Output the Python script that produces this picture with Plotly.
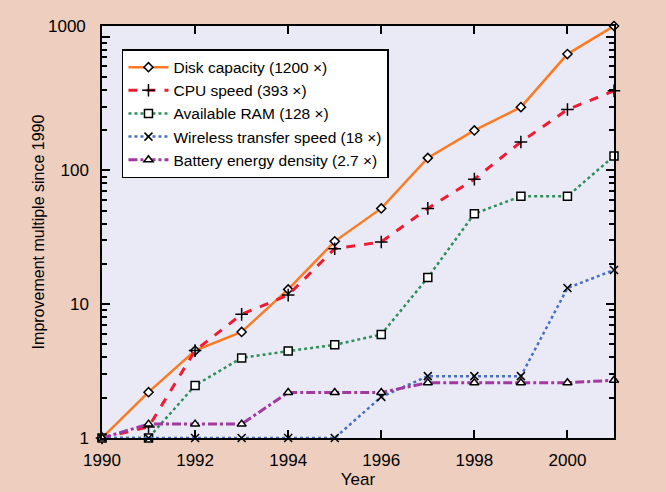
import plotly.graph_objects as go

years = list(range(1990, 2002))
disk = [1, 2.2, 4.5, 6.2, 12.9, 29.5, 52, 124, 199, 297, 740, 1200]
cpu = [1, 1.21, 4.5, 8.4, 11.7, 26, 29.2, 52, 86, 163, 285, 393]
ram = [1, 1, 2.47, 3.97, 4.46, 4.97, 5.94, 15.8, 47.5, 64, 64, 128]
wireless = [1, 1, 1, 1, 1, 1, 2.03, 2.9, 2.9, 2.9, 13.2, 18]
battery = [1, 1.27, 1.27, 1.27, 2.19, 2.19, 2.19, 2.59, 2.59, 2.59, 2.59, 2.7]

names = ["Disk capacity (1200 \u00d7)", "CPU speed (393 \u00d7)", "Available RAM (128 \u00d7)",
         "Wireless transfer speed (18 \u00d7)", "Battery energy density (2.7 \u00d7)"]
series = [disk, cpu, ram, wireless, battery]
colors = ["#fb7a22", "#ee1c33", "#2e8f5a", "#4a6fc0", "#a03aa0"]
dashes = ["solid", "dash", "dot", "dot", "dashdot"]
widths = [2.5, 3, 2.5, 2.5, 3]
symbols = ["diamond", "cross-thin", "square", "x-thin", "triangle-up"]
msizes = [7, 9, 8, 8, 8]

FONT = "Liberation Sans, Arial, sans-serif"

fig = go.Figure()
for n, s, c, d, w, sym, ms in zip(names, series, colors, dashes, widths, symbols, msizes):
    if "thin" in sym:
        marker = dict(symbol=sym, size=ms, color="black", line=dict(color="black", width=1.5))
    else:
        marker = dict(symbol=sym, size=ms, color="white", line=dict(color="black", width=1.5))
    fig.add_trace(go.Scatter(x=years, y=s, name=n, mode="lines+markers",
                             line=dict(color=c, dash=d, width=w), marker=marker,
                             cliponaxis=False))

minor_vals = [m * 10 ** e for e in range(0, 4) for m in range(2, 10)]

fig.update_layout(
    width=666, height=492,
    margin=dict(l=102, r=52, t=26, b=54, autoexpand=False),
    paper_bgcolor="#eecebf",
    plot_bgcolor="#e9eaf6",
    font=dict(family=FONT, size=17, color="black"),
    showlegend=True,
    legend=dict(x=0.039, y=0.944, xanchor="left", yanchor="top",
                bgcolor="white", bordercolor="black", borderwidth=1.5,
                font=dict(family=FONT, size=15.5), tracegroupgap=0,
                itemwidth=40),
    xaxis=dict(range=[1990, 2001], tickvals=[1990, 1992, 1994, 1996, 1998, 2000],
               ticks="inside", ticklen=8, tickwidth=1.5, tickcolor="black",
               ticklabelstandoff=6, automargin=False,
               showline=True, linecolor="black", linewidth=1.5, mirror="ticks",
               showgrid=False, zeroline=False,
               title=dict(text="Year", font=dict(family=FONT, size=17), standoff=4)),
    yaxis=dict(type="log", range=[0, 3.0792],
               tickvals=[1, 10, 100, 1000], ticktext=["1", "10", "100", ""],
               ticks="inside", ticklen=8, tickwidth=2, tickcolor="black",
               ticklabelstandoff=8, automargin=False,
               minor=dict(tickvals=minor_vals, ticks="inside", ticklen=5, tickwidth=1.5,
                          tickcolor="black", showgrid=False),
               showline=True, linecolor="black", linewidth=1.5, mirror="ticks",
               showgrid=False, zeroline=False,
               title=dict(text="Improvement multiple since 1990",
                          font=dict(family=FONT, size=16), standoff=12)),
)
fig.add_annotation(text="1000", xref="paper", yref="paper", x=0, y=1,
                   xanchor="right", yanchor="middle", xshift=-14, showarrow=False,
                   font=dict(family=FONT, size=17))

fig.write_html("out.html", config={"displayModeBar": False},
               post_script="document.body.style.margin='0';")
